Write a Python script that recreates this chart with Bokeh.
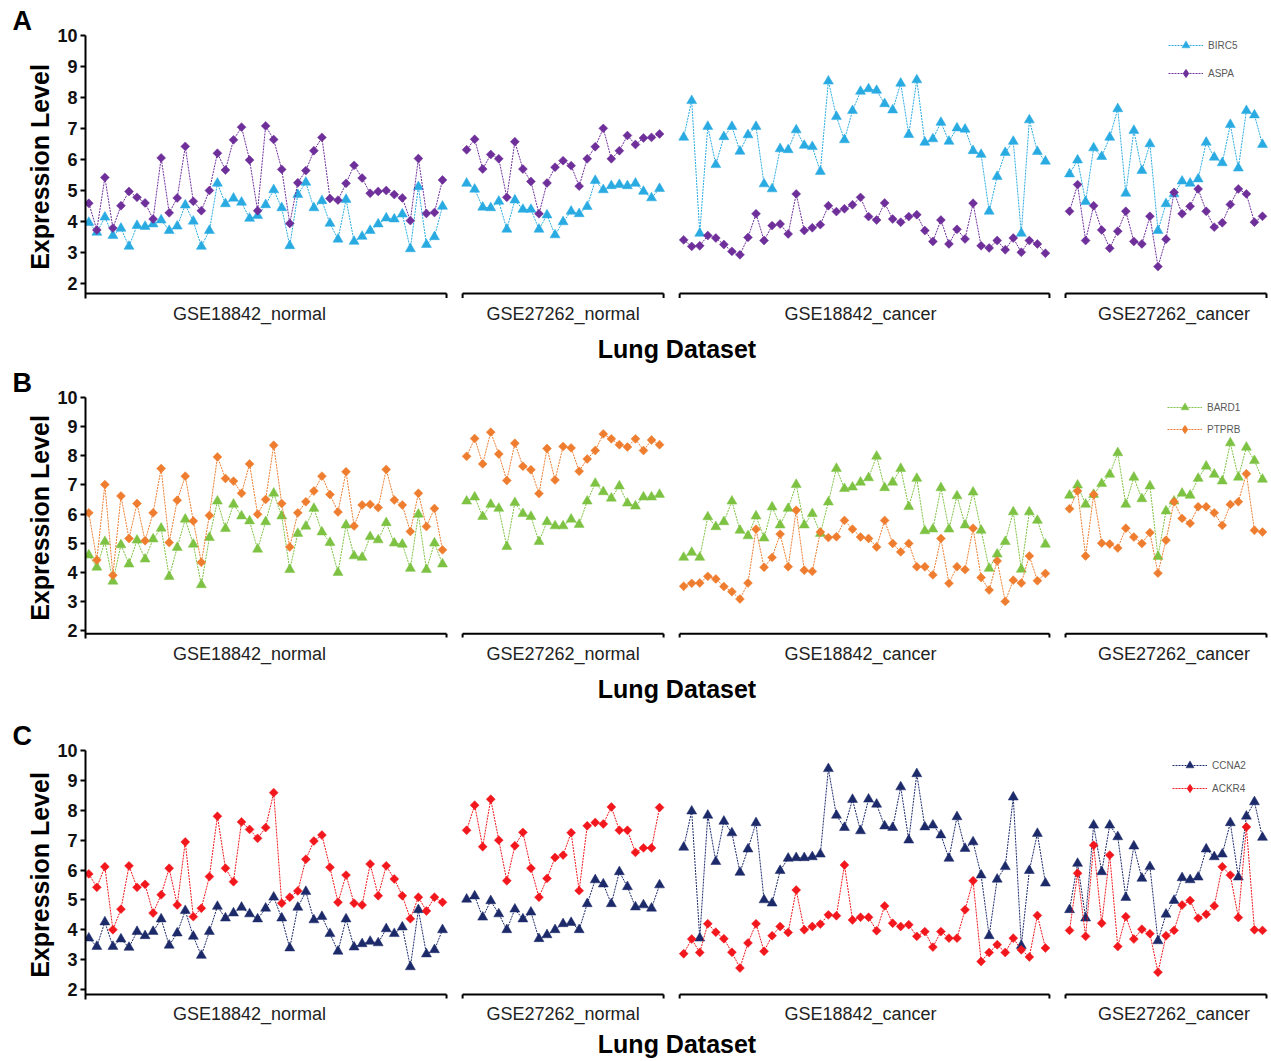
import math
from bokeh.plotting import figure
from bokeh.layouts import column
from bokeh.models import Range1d, FixedTicker, Legend, LegendItem, Title
from bokeh.embed import file_html
from bokeh.resources import INLINE

GROUPS = ["GSE18842_normal", "GSE27262_normal", "GSE18842_cancer", "GSE27262_cancer"]

# ---------------- Panel A ----------------
BIRC5 = [
    [3.98, 3.66, 4.15, 3.56, 3.79, 3.21, 3.88, 3.85, 3.93, 4.06, 3.72, 3.86, 4.54, 4.02, 3.21,
     3.72, 5.24, 4.58, 4.76, 4.63, 4.11, 4.20, 4.55, 5.03, 4.45, 3.23, 4.88, 5.27, 4.45, 4.68,
     3.95, 3.44, 4.72, 3.37, 3.53, 3.72, 3.93, 4.12, 4.09, 4.25, 3.13, 5.13, 3.27, 3.52, 4.50],
    [5.24, 5.05, 4.47, 4.45, 4.66, 3.76, 4.70, 4.40, 4.40, 3.76, 4.22, 3.58, 4.00, 4.34, 4.26,
     4.49, 5.33, 5.03, 5.16, 5.20, 5.16, 5.24, 4.98, 4.77, 5.07],
    [6.72, 7.90, 3.63, 7.07, 5.84, 6.74, 7.07, 6.27, 6.80, 7.07, 5.22, 5.06, 6.35, 6.32, 6.96,
     6.46, 6.42, 5.62, 8.53, 7.39, 6.64, 7.58, 8.20, 8.28, 8.23, 7.80, 7.60, 8.46, 6.81, 8.57,
     6.56, 6.67, 7.20, 6.59, 7.02, 6.98, 6.29, 6.17, 4.34, 5.46, 6.23, 6.59, 3.63, 7.28, 6.26, 5.95],
    [5.54, 5.99, 4.65, 6.38, 6.10, 6.72, 7.64, 4.92, 6.94, 5.65, 6.51, 3.72, 4.58, 4.90, 5.31,
     5.24, 5.38, 6.56, 6.08, 5.90, 7.13, 5.73, 7.58, 7.44, 6.49],
]
ASPA = [
    [4.60, 3.74, 5.43, 3.80, 4.52, 4.98, 4.79, 4.61, 4.09, 6.06, 4.29, 4.77, 6.43, 4.66, 4.36,
     5.01, 6.21, 5.67, 6.64, 7.05, 5.99, 4.36, 7.09, 6.65, 5.69, 3.95, 5.26, 5.65, 6.29, 6.72,
     4.75, 4.70, 5.24, 5.82, 5.41, 4.92, 4.98, 5.01, 4.88, 4.77, 4.04, 6.04, 4.27, 4.30, 5.35],
    [6.32, 6.66, 5.70, 6.17, 6.03, 4.79, 6.58, 5.70, 5.30, 4.26, 5.25, 5.76, 5.97, 5.81, 5.15,
     6.03, 6.42, 7.01, 6.03, 6.29, 6.78, 6.49, 6.70, 6.72, 6.83],
    [3.42, 3.21, 3.23, 3.56, 3.48, 3.27, 3.05, 2.94, 3.50, 4.26, 3.40, 3.88, 3.93, 3.61, 4.90,
     3.72, 3.81, 3.91, 4.52, 4.33, 4.42, 4.55, 4.79, 4.17, 4.06, 4.61, 4.09, 3.99, 4.17, 4.23,
     3.72, 3.37, 4.06, 3.29, 3.76, 3.45, 4.60, 3.23, 3.16, 3.40, 3.10, 3.48, 3.02, 3.40, 3.29, 2.99],
    [4.34, 5.20, 3.40, 4.52, 3.74, 3.15, 3.70, 4.34, 3.37, 3.29, 4.18, 2.56, 3.44, 4.95, 4.26,
     4.50, 5.06, 4.34, 3.83, 3.97, 4.56, 5.06, 4.90, 3.99, 4.18],
]

# ---------------- Panel B ----------------
BARD1 = [
    [4.59, 4.17, 5.05, 3.69, 4.94, 4.28, 5.10, 4.45, 5.14, 5.51, 3.85, 4.85, 5.82, 4.96, 3.57,
     5.19, 6.44, 5.50, 6.33, 5.93, 5.76, 4.79, 5.73, 6.71, 5.93, 4.09, 5.33, 5.58, 6.19, 5.38,
     5.02, 3.99, 5.62, 4.56, 4.51, 5.22, 5.11, 5.70, 5.00, 4.96, 4.13, 5.99, 4.09, 5.00, 4.28],
    [6.44, 6.58, 5.91, 6.33, 6.19, 4.88, 6.39, 6.01, 5.91, 5.05, 5.73, 5.59, 5.59, 5.82, 5.64,
     6.44, 7.05, 6.76, 6.54, 6.96, 6.37, 6.27, 6.58, 6.58, 6.67],
    [4.51, 4.68, 4.51, 5.90, 5.56, 5.73, 6.44, 5.44, 5.25, 5.93, 5.17, 6.24, 5.62, 6.19, 7.01,
     5.62, 6.01, 5.33, 6.41, 7.56, 6.87, 6.92, 7.09, 7.24, 7.98, 6.90, 7.09, 7.56, 6.25, 7.22,
     5.42, 5.48, 6.90, 5.48, 6.62, 5.62, 6.75, 5.44, 4.13, 4.62, 5.05, 6.07, 4.10, 6.07, 5.78, 4.96],
    [6.64, 6.99, 6.33, 6.67, 7.04, 7.36, 8.10, 6.33, 7.26, 6.52, 6.96, 4.54, 6.10, 6.44, 6.71,
     6.64, 7.22, 7.64, 7.36, 7.13, 8.44, 7.26, 8.29, 7.83, 7.19],
]
PTPRB = [
    [6.04, 4.42, 7.01, 3.90, 6.62, 5.16, 6.36, 5.08, 6.04, 7.56, 5.02, 6.47, 7.30, 5.76, 4.34,
     5.95, 7.96, 7.22, 7.13, 6.71, 7.72, 5.99, 6.50, 8.36, 6.36, 4.87, 6.04, 6.42, 6.79, 7.30,
     6.67, 6.07, 7.45, 5.59, 6.31, 6.33, 6.22, 7.53, 6.48, 6.31, 5.40, 6.71, 5.57, 6.19, 4.77],
    [7.98, 8.59, 7.72, 8.81, 8.06, 7.15, 8.43, 7.64, 7.52, 6.70, 8.25, 7.17, 8.32, 8.27, 7.47,
     7.89, 8.18, 8.75, 8.58, 8.38, 8.30, 8.58, 8.18, 8.54, 8.38],
    [3.52, 3.62, 3.63, 3.86, 3.77, 3.51, 3.33, 3.08, 3.63, 5.48, 4.17, 4.51, 5.31, 4.19, 6.13,
     4.07, 4.03, 5.38, 5.19, 5.22, 5.78, 5.48, 5.21, 5.16, 4.87, 5.78, 4.99, 4.70, 4.99, 4.19,
     4.19, 3.91, 5.16, 3.62, 4.19, 4.09, 5.51, 3.82, 3.39, 4.39, 3.00, 3.73, 3.63, 4.56, 3.71, 3.96],
    [6.18, 6.79, 4.56, 6.67, 5.00, 4.97, 4.83, 5.51, 5.21, 4.99, 5.36, 3.97, 5.10, 6.42, 5.85,
     5.68, 6.25, 6.25, 6.04, 5.61, 6.33, 6.42, 7.38, 5.44, 5.38],
]

# ---------------- Panel C ----------------
CCNA2 = [
    [3.72, 3.44, 4.26, 3.44, 3.69, 3.41, 3.94, 3.80, 3.94, 4.36, 3.48, 3.89, 4.64, 3.78, 3.14,
     3.94, 4.78, 4.39, 4.56, 4.75, 4.53, 4.36, 4.72, 5.09, 4.39, 3.39, 4.75, 5.28, 4.33, 4.44,
     3.87, 3.28, 4.36, 3.42, 3.53, 3.61, 3.56, 4.03, 3.87, 4.09, 2.76, 4.67, 3.19, 3.33, 4.00],
    [5.02, 5.13, 4.42, 4.97, 4.53, 4.00, 4.69, 4.36, 4.59, 3.70, 3.83, 4.00, 4.20, 4.24, 4.00,
     4.87, 5.67, 5.53, 4.87, 5.94, 5.44, 4.76, 4.83, 4.72, 5.50],
    [6.76, 7.97, 3.72, 7.83, 6.28, 7.63, 7.24, 5.92, 6.70, 7.58, 5.00, 4.89, 5.98, 6.39, 6.41,
     6.41, 6.44, 6.53, 9.39, 7.83, 7.42, 8.36, 7.31, 8.37, 8.20, 7.47, 7.42, 8.78, 7.00, 9.22,
     7.44, 7.50, 7.17, 6.39, 7.78, 6.72, 6.94, 5.83, 3.80, 5.69, 6.11, 8.44, 3.47, 5.98, 7.22, 5.56],
    [4.67, 6.22, 4.39, 7.50, 5.94, 7.50, 7.11, 5.08, 6.80, 5.72, 6.11, 3.63, 4.52, 4.98, 5.74,
     5.67, 5.76, 6.70, 6.44, 6.53, 7.58, 5.76, 7.80, 8.28, 7.09],
]
ACKR4 = [
    [5.87, 5.42, 6.11, 4.00, 4.69, 6.14, 5.42, 5.52, 4.56, 5.17, 6.06, 4.83, 6.94, 4.44, 4.72,
     5.78, 7.80, 6.06, 5.61, 7.61, 7.36, 7.06, 7.42, 8.59, 4.89, 5.09, 5.30, 6.36, 6.97, 7.17,
     6.09, 4.92, 5.83, 4.89, 4.83, 6.20, 5.14, 6.14, 5.70, 5.14, 4.37, 5.09, 4.63, 5.09, 4.92],
    [7.33, 8.17, 6.78, 8.37, 7.00, 5.64, 6.81, 7.26, 6.06, 5.09, 5.72, 6.42, 6.50, 7.25, 5.31,
     7.48, 7.59, 7.54, 8.11, 7.33, 7.33, 6.59, 6.74, 6.74, 8.09],
    [3.20, 3.69, 3.24, 4.20, 3.92, 3.70, 3.25, 2.72, 3.56, 4.20, 3.28, 3.80, 4.11, 3.91, 5.33,
     4.00, 4.11, 4.19, 4.50, 4.47, 6.17, 4.33, 4.42, 4.42, 3.97, 4.80, 4.22, 4.11, 4.17, 3.78,
     3.94, 3.42, 3.94, 3.72, 3.72, 4.67, 5.64, 2.94, 3.24, 3.50, 3.24, 3.72, 3.33, 3.09, 4.48, 3.39],
    [3.98, 5.89, 3.78, 6.83, 4.22, 6.50, 3.44, 4.44, 3.69, 4.02, 3.87, 2.58, 3.80, 3.98, 4.83,
     4.98, 4.39, 4.52, 4.80, 6.11, 5.83, 4.41, 7.44, 4.00, 3.98],
]

Y_TICKS = [2, 3, 4, 5, 6, 7, 8, 9, 10]
FONT = "Liberation Sans"
SLOTS_BETWEEN = 2            # empty index slots between the four datasets
LABEL_SHIFT = [-2, 0, 0, 1]  # small nudges of the dataset names
FIG_W = 1270
LEFT = 85
RIGHT = 2


def group_positions(series):
    starts, s = [], 0
    for vals in series:
        starts.append(s)
        s += len(vals) + SLOTS_BETWEEN
    return starts


def flatten(series):
    starts = group_positions(series)
    xs, ys = [], []
    for st, vals in zip(starts, series):
        if xs:
            xs.append(float("nan"))
            ys.append(float("nan"))
        xs.extend(range(st, st + len(vals)))
        ys.extend(vals)
    return xs, ys


def make_panel(letter, genes, top, frame_h, bottom, y_start, bracket_y, tick_y,
               legend_xy, legend_sp, lab_standoff, axlab_standoff):
    ttl = Title(text=letter, align="left", offset=-73, standoff=0,
                text_font=FONT, text_font_size="27px", text_font_style="bold",
                text_color="black")
    p = figure(width=FIG_W, height=top + frame_h + bottom, title=ttl,
               x_range=Range1d(-0.41, 146.75), y_range=Range1d(y_start, 10.0),
               output_backend="svg", toolbar_location=None,
               min_border_left=LEFT, min_border_right=RIGHT,
               min_border_top=top, min_border_bottom=bottom)
    p.outline_line_color = None
    p.xgrid.visible = False
    p.ygrid.visible = False
    p.background_fill_color = "white"

    # y axis
    ya = p.yaxis[0]
    ya.ticker = FixedTicker(ticks=Y_TICKS)
    ya.axis_label = "Expression Level"
    ya.axis_label_text_font = FONT
    ya.axis_label_text_font_size = "25px"
    ya.axis_label_text_font_style = "bold"
    ya.axis_label_text_color = "black"
    ya.axis_label_standoff = 0
    ya.major_label_text_font = FONT
    ya.major_label_text_font_size = "18px"
    ya.major_label_text_font_style = "bold"
    ya.major_label_text_color = "#111111"
    ya.major_label_standoff = 3
    ya.axis_line_width = 2
    ya.major_tick_line_width = 2
    ya.major_tick_out = 5
    ya.major_tick_in = 0
    ya.minor_tick_line_color = None

    # x axis: dataset names only
    series0 = genes[0]["values"]
    starts = group_positions(series0)
    centers = [int(round(st + (len(v) - 1) / 2 + sh)) for st, v, sh in zip(starts, series0, LABEL_SHIFT)]
    xa = p.xaxis[0]
    xa.ticker = FixedTicker(ticks=centers)
    xa.major_label_overrides = {c: g for c, g in zip(centers, GROUPS)}
    xa.axis_line_color = None
    xa.major_tick_line_color = None
    xa.minor_tick_line_color = None
    xa.major_tick_out = 0
    xa.major_tick_in = 0
    xa.major_label_text_font = FONT
    xa.major_label_text_font_size = "18px"
    xa.major_label_text_color = "#222222"
    xa.major_label_standoff = lab_standoff
    xa.axis_label = "Lung Dataset"
    xa.axis_label_text_font = FONT
    xa.axis_label_text_font_size = "25px"
    xa.axis_label_text_font_style = "bold"
    xa.axis_label_text_color = "black"
    xa.axis_label_standoff = axlab_standoff

    # group brackets
    bx0 = [st - 0.5 for st in starts]
    bx1 = [st + len(v) - 1 + 0.5 for st, v in zip(starts, series0)]
    p.segment(x0=bx0, y0=[bracket_y] * 4, x1=bx1, y1=[bracket_y] * 4,
              line_color="black", line_width=2)
    p.segment(x0=bx0 + bx1, y0=[bracket_y] * 8, x1=bx0 + bx1, y1=[tick_y] * 8,
              line_color="black", line_width=2)

    items = []
    for g in genes:
        xs, ys = flatten(g["values"])
        lr = p.line(xs, ys, line_color=g["color"], line_width=1, line_dash="2 1")
        if g["marker"] == "triangle":
            sr = p.scatter(xs, ys, marker="triangle", size=10, fill_color=g["color"],
                           line_color=g["color"], line_width=0.5)
            items.append(LegendItem(label=g["name"], renderers=[lr, sr]))
        else:
            p.scatter(xs, ys, marker="square", angle=math.pi / 4, size=6.3,
                      fill_color=g["color"], line_color=g["color"], line_width=0.5)
            # legend-only diamond glyph (its y values are empty, so nothing is drawn in the plot)
            hidden = [float("nan")] * len(xs)
            leg = p.scatter(x=xs, y=hidden, marker="diamond", size=9,
                            fill_color=g["color"], line_color=g["color"])
            items.append(LegendItem(label=g["name"], renderers=[lr, leg]))

    legend = Legend(items=items, location=legend_xy, orientation="vertical",
                    glyph_width=35, glyph_height=20, label_height=20, spacing=legend_sp,
                    label_standoff=5, padding=0, margin=0,
                    label_text_font=FONT, label_text_font_size="10px",
                    label_text_color="#595959",
                    border_line_color=None, background_fill_alpha=0)
    p.add_layout(legend)
    return p


pA = make_panel("A", [
    dict(name="BIRC5", values=BIRC5, color="#29ABE2", marker="triangle"),
    dict(name="ASPA", values=ASPA, color="#6E2F9A", marker="diamond"),
], top=35, frame_h=263, bottom=67, y_start=1.533, bracket_y=1.694, tick_y=1.55,
    legend_xy=(1083, 215), legend_sp=8, lab_standoff=5, axlab_standoff=8)

pB = make_panel("B", [
    dict(name="BARD1", values=BARD1, color="#7DC242", marker="triangle"),
    dict(name="PTPRB", values=PTPRB, color="#EE7D2F", marker="diamond"),
], top=31, frame_h=242, bottom=67, y_start=1.726, bracket_y=1.887, tick_y=1.76,
    legend_xy=(1082, 199), legend_sp=2, lab_standoff=5, axlab_standoff=8)

pC = make_panel("C", [
    dict(name="CCNA2", values=CCNA2, color="#1C2A6A", marker="triangle"),
    dict(name="ACKR4", values=ACKR4, color="#F2171D", marker="diamond"),
], top=45, frame_h=250, bottom=60, y_start=1.667, bracket_y=1.833, tick_y=1.70,
    legend_xy=(1087, 201), legend_sp=3, lab_standoff=4, axlab_standoff=3)

layout = column(pA, pB, pC, spacing=0)
open("out.html", "w").write(file_html(layout, INLINE))
